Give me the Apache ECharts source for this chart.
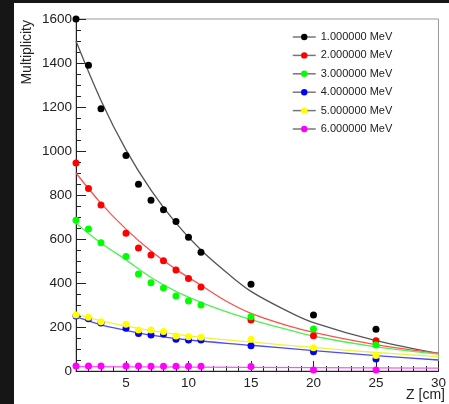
<!DOCTYPE html>
<html>
<head>
<meta charset="utf-8">
<script src="https://cdn.jsdelivr.net/npm/echarts@6/dist/echarts.min.js"></script>
<style>
  html, body { margin: 0; padding: 0; background: #ffffff; }
  #chart { width: 449px; height: 404px; }
</style>
</head>
<body>
<div id="chart"></div>
<script>
// Measured multiplicity vs. depth Z for six beam energies
const zValues = [1, 2, 3, 5, 6, 7, 8, 9, 10, 11, 15, 20, 25];
const mult1MeV = [1600, 1390, 1192, 979, 849, 776, 733, 679, 608, 540, 394, 254, 190];
const mult2MeV = [945, 830, 755, 626, 559, 527, 501, 459, 421, 382, 232, 160, 138];
const mult3MeV = [685, 645, 583, 521, 441, 401, 377, 341, 318, 300, 247, 191, 118];
const mult4MeV = [250, 238, 218, 194, 171, 164, 168, 144, 141, 141, 115, 88, 55];
const mult5MeV = [255, 244, 224, 212, 186, 186, 179, 159, 156, 153, 144, 106, 71];
const mult6MeV = [23, 23, 23, 23, 23, 22, 22, 22, 22, 22, 21, 5, 4];

// Fitted curves, sampled along Z
const fitZ = [1, 3, 5, 7, 9, 11, 13, 15, 18, 20, 25, 30];
const fit1MeV = [1500, 1230, 1005, 822, 672, 550, 450, 362, 270, 220, 138, 80];
const fit2MeV = [900, 762, 645, 545, 462, 390, 318, 262, 205, 176, 120, 80];
const fit3MeV = [672, 582, 505, 425, 362, 312, 270, 234, 187, 158, 110, 77];
const fitZ4 = [1, 3, 5, 7, 10, 15, 20, 25, 30];
const fit4MeV = [247, 210, 185, 163, 141, 117, 93, 70, 50];
const fitZ5 = [1, 3, 6, 10, 15, 20, 25, 30];
const fit5MeV = [258, 228, 194, 160, 132, 107, 84, 65];
const fitZ6 = [1, 10, 20, 30];
const fit6MeV = [20, 18, 15, 13];

const legendNames = ['1.000000 MeV', '2.000000 MeV', '3.000000 MeV',
                     '4.000000 MeV', '5.000000 MeV', '6.000000 MeV'];
const markerColors = ['#000000', '#ff0000', '#00ff00', '#0000ff', '#ffff00', '#ff00ff'];
const curveColors = ['#555555', '#ff5050', '#50f050', '#4a4aff', '#f0f040', '#ff50ff'];
const xMajorTicks = [5, 10, 15, 20, 25, 30];

const pointSets = [mult1MeV, mult2MeV, mult3MeV, mult4MeV, mult5MeV, mult6MeV];
const fitSets = [
  [fitZ, fit1MeV], [fitZ, fit2MeV], [fitZ, fit3MeV],
  [fitZ4, fit4MeV], [fitZ5, fit5MeV], [fitZ6, fit6MeV]
];

const pairs = (xs, ys) => xs.map((x, i) => [x, ys[i]]);

const series = [];
fitSets.forEach(([xs, ys], i) => {
  series.push({
    name: 'fit' + (i + 1),
    type: 'line',
    data: pairs(xs, ys),
    smooth: 0.35,
    showSymbol: false,
    silent: true,
    z: 2,
    lineStyle: { color: curveColors[i], width: 1.3 }
  });
});
pointSets.forEach((ys, i) => {
  series.push({
    name: legendNames[i],
    type: 'line',
    data: pairs(zValues, ys),
    symbol: 'circle',
    symbolSize: 7,
    showSymbol: true,
    clip: false,
    z: 3,
    lineStyle: { width: 0, opacity: 0 },
    itemStyle: { color: markerColors[i] }
  });
});

const chart = echarts.init(document.getElementById('chart'), null, { renderer: 'canvas' });
chart.setOption({
  animation: false,
  backgroundColor: '#ffffff',
  grid: {
    left: 76, top: 19, right: 5, bottom: 33,
    show: true, borderColor: '#999999', borderWidth: 1, backgroundColor: 'transparent'
  },
  legend: {
    data: legendNames,
    orient: 'vertical',
    left: 292, top: 31.5,
    padding: 0,
    itemWidth: 23, itemHeight: 8, itemGap: 7.4,
    selectedMode: false,
    textStyle: { fontFamily: 'Liberation Sans', fontSize: 11, color: '#222222' },
    lineStyle: { color: '#777777', width: 1.5, opacity: 1 }
  },
  xAxis: [
    {
      type: 'value', min: 1, max: 30,
      axisLine: { show: true, lineStyle: { color: '#222222', width: 1 } },
      axisTick: { show: true, inside: true, length: 10, customValues: xMajorTicks,
                  lineStyle: { color: '#222222' } },
      axisLabel: { customValues: xMajorTicks, margin: 5, color: '#222222',
                   fontFamily: 'Liberation Sans', fontSize: 13.5 },
      splitLine: { show: false }
    },
    {
      type: 'value', min: 1, max: 30, interval: 1, position: 'bottom',
      axisLine: { show: false },
      axisTick: { show: true, inside: true, length: 5, lineStyle: { color: '#222222' } },
      axisLabel: { show: false },
      splitLine: { show: false }
    }
  ],
  yAxis: {
    type: 'value', min: 0, max: 1600, interval: 200,
    axisLine: { show: true, lineStyle: { color: '#222222', width: 1 } },
    axisTick: { show: true, inside: true, length: 10, lineStyle: { color: '#222222' } },
    minorTick: { show: true, splitNumber: 4, length: 5, lineStyle: { color: '#222222' } },
    axisLabel: { margin: 4, color: '#222222', fontFamily: 'Liberation Sans', fontSize: 13.5,
                 formatter: (v) => String(v) },
    splitLine: { show: false }
  },
  graphic: [
    { type: 'rect', left: 0, top: 0, silent: true,
      shape: { width: 14, height: 404 }, style: { fill: '#161616' } },
    { type: 'rect', left: 0, top: 0, silent: true,
      shape: { width: 449, height: 3 }, style: { fill: '#161616' } },
    { type: 'text', x: 27, y: 20, rotation: Math.PI / 2, silent: true,
      style: { text: 'Multiplicity', fill: '#222222', fontFamily: 'Liberation Sans',
               fontSize: 14, align: 'right', verticalAlign: 'middle' } },
    { type: 'text', x: 445, y: 395, silent: true,
      style: { text: 'Z [cm]', fill: '#222222', fontFamily: 'Liberation Sans',
               fontSize: 14, align: 'right', verticalAlign: 'middle' } }
  ],
  series: series
});
</script>
</body>
</html>
